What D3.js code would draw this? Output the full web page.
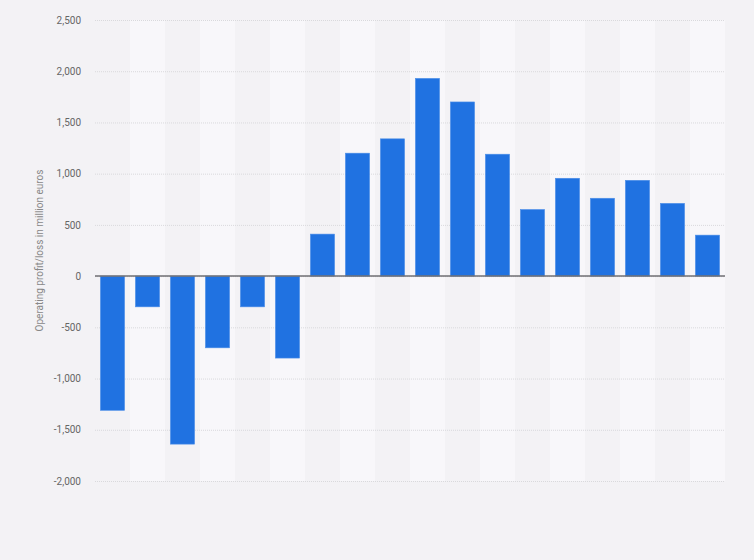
<!DOCTYPE html>
<html><head><meta charset="utf-8">
<script src="https://cdn.jsdelivr.net/npm/d3@7"></script>
<style>
html,body{margin:0;padding:0;background:#f3f2f5;}
svg{display:block;}
</style></head>
<body>
<svg id="c" width="754" height="560"></svg>
<script>
const categories = ["1","2","3","4","5","6","7","8","9","10","11","12","13","14","15","16","17","18"];
const values = [-1310,-300,-1640,-700,-300,-800,410,1200,1340,1930,1700,1190,650,955,760,935,710,400];
const yTicks = [-2000,-1500,-1000,-500,0,500,1000,1500,2000,2500];
const yTitle = "Operating profit/loss in million euros";

(function(){
const svg = d3.select("#c");
const mL = 95, mR = 725, mT = 20, mB = 481;
const x = d3.scaleBand().domain(categories).range([mL, mR]).paddingInner(0.31).paddingOuter(0.155);
const xs = d3.scaleBand().domain(categories).range([mL, mR]);
const y = d3.scaleLinear().domain([-2000, 2500]).range([mB, mT]);
const fmt = d3.formatLocale({decimal: ".", thousands: ",", grouping: [3], currency: ["", ""], minus: "-"}).format(",");

// stripes
svg.append("g").selectAll("rect").data(categories).join("rect")
  .attr("x", d => xs(d)).attr("width", xs.bandwidth())
  .attr("y", mT).attr("height", mB - mT)
  .attr("fill", (d,i) => i % 2 ? "#f8f7fa" : "#f3f2f5");

// grid
const ax = d3.axisLeft(y).tickValues(yTicks).tickSize(-(mR-mL)).tickFormat(fmt);
const g = svg.append("g").attr("transform", `translate(${mL},0)`).call(ax);
g.select(".domain").remove();
g.selectAll(".tick line").attr("stroke", "#d9d9dc").attr("stroke-dasharray", "1,1").attr("stroke-width", 1);
g.selectAll(".tick text").attr("x", -14).attr("fill", "#666").attr("font-size", "10px").attr("font-family", "Roboto, Arial, sans-serif");

// bars
svg.append("g").selectAll("rect").data(values).join("rect")
  .attr("x", (d,i) => x(categories[i])).attr("width", x.bandwidth())
  .attr("y", d => y(Math.max(0,d))).attr("height", d => Math.abs(y(d) - y(0)))
  .attr("fill", "#2072e1").attr("stroke", "#4d8fe8").attr("stroke-width", 0.6);

// zero line
svg.append("line").attr("x1", mL).attr("x2", mR).attr("y1", y(0)).attr("y2", y(0))
  .attr("stroke", "#6f6f73").attr("stroke-width", 1.5);

// y title
svg.append("text").attr("transform", `translate(43,${(y(2500)+y(-2000))/2}) rotate(-90)`)
  .attr("text-anchor", "middle").attr("fill", "#888").attr("font-size", "10px")
  .attr("font-family", "Roboto, Arial, sans-serif").text(yTitle);
})();
</script>
</body></html>
